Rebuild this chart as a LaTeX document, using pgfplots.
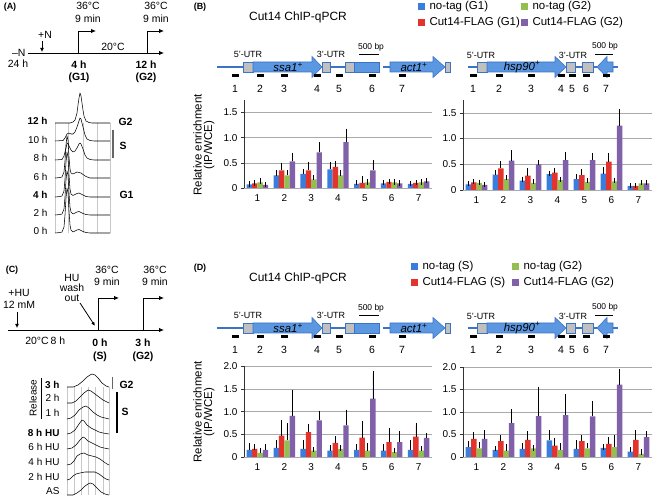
\documentclass[border=0pt]{standalone}
\usepackage{fontspec}
\setmainfont{Liberation Sans}
\usepackage{pgfplots}
\pgfplotsset{compat=1.18}
\usetikzlibrary{arrows.meta}
\definecolor{cblue}{RGB}{58,125,221}
\definecolor{cred}{RGB}{226,52,44}
\definecolor{cgreen}{RGB}{148,190,78}
\definecolor{cpurple}{RGB}{128,96,168}
\definecolor{geneblue}{RGB}{92,152,226}
\definecolor{geneline}{RGB}{60,115,195}
\definecolor{utrgray}{RGB}{192,192,192}
\definecolor{gridgray}{RGB}{170,170,170}
\definecolor{histgrid}{RGB}{200,200,200}
\newcommand{\fs}[1]{\fontsize{#1}{#1}\selectfont}

\pgfplotsset{
  barax/.style={
    scale only axis, anchor=south west,
    xmin=0.5, xmax=7.5, xtick={1,...,7},
    axis lines*=left,
    ybar=0pt, bar width=0.2,
    ymajorgrids, grid style={gridgray, line width=0.6pt},
    x axis line style={gridgray, line width=0.8pt},
    y axis line style={black!80, line width=0.7pt},
    xtick style={draw=none},
    ytick style={black!80, line width=0.6pt},
    tick align=outside, major tick length=3bp,
    ticklabel style={font=\fs{10}},
    /pgf/number format/assume math mode=true,
  },
  eb/.style={draw=none, error bars/.cd, y dir=plus, y explicit,
     error bar style={draw=black, line width=0.7pt},
     error mark options={draw=black, line width=0.7pt, mark size=2.6bp}},
  hist/.style={black, line width=0.55pt, mark=none, line join=round},
}

\newcommand{\primer}[1]{\fill[black] ({#1-3.5},74.5) rectangle ({#1+3.5},77.5);}
\newcommand{\geneleft}{%
  \draw[geneline, line width=1.8bp] (217,67)--(243,67);
  \draw[geneline, line width=1.8bp] (330,67)--(345,67);
  \draw[geneline, line width=1.8bp] (383,67)--(390,67);
  \draw[geneline, fill=utrgray, line width=0.6bp] (243,62) rectangle (253,72);
  \draw[geneline, fill=geneblue, line width=0.6bp] (253,62)--(312,62)--(312,56.5)--(322,67)--(312,77.5)--(312,72)--(253,72)--cycle;
  \draw[geneline, fill=utrgray, line width=0.6bp] (322,62) rectangle (330,72);
  \draw[geneline, fill=utrgray, line width=0.6bp] (345,62) rectangle (354,72);
  \draw[geneline, fill=geneblue, line width=0.6bp] (354,62) rectangle (379,72);
  \draw[geneline, fill=geneblue, line width=0.6bp] (390,62)--(433,62)--(433,56.5)--(445,67)--(433,77.5)--(433,72)--(390,72)--cycle;
  \draw[geneline, fill=utrgray, line width=0.6bp] (445,62) rectangle (450,72);
  \node[font=\fs{11.5}\itshape] at (288,67) {ssa1\textsuperscript{+}};
  \node[font=\fs{11.5}\itshape] at (414,67) {act1\textsuperscript{+}};
  \node[font=\fs{9}] at (248,54) {5'-UTR};
  \node[font=\fs{9}] at (331,54) {3'-UTR};
  \node[font=\fs{8.5}] at (371,47) {500 bp};
  \draw[black, line width=1.2bp] (359,54.5)--(379,54.5);
  \foreach \x/\n in {235/1,260/2,284/3,317/4,339/5,372/6,402/7}{\primer{\x}\node[font=\fs{10.5}] at (\x,88.5) {\n};}
}
\newcommand{\generight}{%
  \draw[geneline, line width=1.8bp] (468,67)--(477,67);
  \draw[geneline, line width=1.8bp] (575,67)--(582,67);
  \draw[geneline, line width=1.8bp] (593,67)--(597,67);
  \draw[geneline, line width=1.8bp] (613,67)--(618,67);
  \draw[geneline, fill=utrgray, line width=0.6bp] (477,62) rectangle (487,72);
  \draw[geneline, fill=geneblue, line width=0.6bp] (487,62)--(555,62)--(555,56.5)--(566,67)--(555,77.5)--(555,72)--(487,72)--cycle;
  \draw[geneline, fill=utrgray, line width=0.6bp] (566,62) rectangle (575,72);
  \draw[geneline, fill=utrgray, line width=0.6bp] (582,62) rectangle (593,72);
  \draw[geneline, fill=geneblue, line width=0.6bp] (613,62)--(607,62)--(607,56.5)--(597,67)--(607,77.5)--(607,72)--(613,72)--cycle;
  \node[font=\fs{11.5}\itshape] at (522,67) {hsp90\textsuperscript{+}};
  \node[font=\fs{9}] at (481,55) {5'-UTR};
  \node[font=\fs{9}] at (573,55) {3'-UTR};
  \node[font=\fs{8.5}] at (605,46) {500 bp};
  \draw[black, line width=1.2bp] (595,54.5)--(613,54.5);
  \foreach \x/\n in {473/1,499/2,531/3,561/4,572/5,586/6,606/7}{\primer{\x}\node[font=\fs{10.5}] at (\x,88.5) {\n};}
}
\newcommand{\legsq}[3]{\fill[#1] (#2,{#3-3.5}) rectangle ({#2+6.5},{#3+3});}

\begin{document}
\begin{tikzpicture}
\useasboundingbox (0,0) rectangle (654bp,498bp);
\begin{scope}[x=1bp,y=-1bp,yshift=498bp]
  % ---------- panel A timeline
  \node[font=\fs{9}\bfseries] at (10,7) {(A)};
  \draw[black, line width=0.9bp, -{Latex[length=5bp,width=4.5bp]}] (28,53)--(164,53);
  \node[font=\fs{10.5}, anchor=east] at (29,53) {\textendash N};
  \node[font=\fs{10.5}] at (18,64) {24 h};
  \node[font=\fs{10.5}] at (45,35) {+N};
  \draw[black, line width=1bp, -{Latex[length=4bp,width=4bp]}] (42,41)--(42,52);
  \draw[black, line width=0.9bp, -{Latex[length=5bp,width=4.5bp]}] (78,53)--(78,31)--(96,31);
  \draw[black, line width=0.9bp, -{Latex[length=5bp,width=4.5bp]}] (147,53)--(147,31)--(164,31);
  \node[font=\fs{10.5}] at (88,6) {36°C};
  \node[font=\fs{10.5}] at (88,19) {9 min};
  \node[font=\fs{10.5}] at (156,6) {36°C};
  \node[font=\fs{10.5}] at (156,19) {9 min};
  \node[font=\fs{10.5}] at (113,47) {20°C};
  \node[font=\fs{10.5}\bfseries] at (79,65) {4 h};
  \node[font=\fs{10.5}\bfseries] at (79,78) {(G1)};
  \node[font=\fs{10.5}\bfseries] at (146,65) {12 h};
  \node[font=\fs{10.5}\bfseries] at (146,78) {(G2)};
  % ---------- panel A histogram frame and labels
  \foreach \x in {55,68,83,97,110}{\draw[histgrid, line width=0.5bp] (\x,123)--(\x,233);}
  \foreach \y/\t in {121/\textbf{12 h},140/10 h,158/8 h,177/6 h,195/\textbf{4 h},213/2 h,231/0 h}{\node[font=\fs{10}, anchor=east] at (51,\y) {\t};}
  \node[font=\fs{10.5}\bfseries, anchor=west] at (115,122) {G2};
  \draw[black!60, line width=1.4bp] (113,130)--(113,158);
  \node[font=\fs{10.5}\bfseries] at (123,146) {S};
  \node[font=\fs{10.5}\bfseries, anchor=west] at (116,195) {G1};
  % ---------- panel C timeline
  \node[font=\fs{9}\bfseries] at (12,270) {(C)};
  \draw[black, line width=0.9bp, -{Latex[length=5bp,width=4.5bp]}] (8,330)--(164,330);
  \node[font=\fs{10.5}] at (19,293) {+HU};
  \node[font=\fs{10.5}] at (19,305) {12 mM};
  \draw[black, line width=1bp, -{Latex[length=4bp,width=4bp]}] (17,312)--(17,328);
  \node[font=\fs{10.5}] at (72,278) {HU};
  \node[font=\fs{10.5}] at (72,288) {wash};
  \node[font=\fs{10.5}] at (72,298) {out};
  \draw[black, line width=0.8bp, -{Latex[length=4bp,width=3.5bp]}] (80,303)--(95,326);
  \draw[black, line width=0.9bp, -{Latex[length=5bp,width=4.5bp]}] (98,330)--(98,298)--(119,298);
  \draw[black, line width=0.9bp, -{Latex[length=5bp,width=4.5bp]}] (143,330)--(143,298)--(164,298);
  \node[font=\fs{10.5}] at (107,270) {36°C};
  \node[font=\fs{10.5}] at (107,282) {9 min};
  \node[font=\fs{10.5}] at (155,270) {36°C};
  \node[font=\fs{10.5}] at (155,282) {9 min};
  \node[font=\fs{10.5}] at (37,341) {20°C};
  \node[font=\fs{10.5}] at (58,341) {8 h};
  \node[font=\fs{10.5}\bfseries] at (100,343) {0 h};
  \node[font=\fs{10.5}\bfseries] at (100,357) {(S)};
  \node[font=\fs{10.5}\bfseries] at (143,343) {3 h};
  \node[font=\fs{10.5}\bfseries] at (143,357) {(G2)};
  % ---------- panel C histogram frame and labels
  \foreach \x in {67,74,81,88,95,103,109}{\draw[histgrid, line width=0.5bp] (\x,387)--(\x,495);}
  \foreach \y/\t in {385/\textbf{3 h},398/2 h,413/1 h,433/\textbf{8 h HU},447/6 h HU,462/4 h HU,477/2 h HU,491/AS}{\node[font=\fs{10}, anchor=east] at (63,\y) {\t};}
  \node[font=\fs{10}, rotate=90] at (33,398) {Release};
  \draw[black, line width=0.8bp] (41,378)--(41,419);
  \draw[black!60, line width=0.8bp] (112,377)--(112,389);
  \node[font=\fs{10.5}\bfseries, anchor=west] at (116,385) {G2};
  \draw[black, line width=1.1bp] (117,392)--(117,433);
  \node[font=\fs{10.5}\bfseries] at (125,412) {S};
  % ---------- panel B header
  \node[font=\fs{9}\bfseries] at (200,7) {(B)};
  \node[font=\fs{12}] at (298,17) {Cut14 ChIP-qPCR};
  \legsq{cblue}{418}{7}  \node[font=\fs{11.5}, anchor=west] at (426,7) {no-tag (G1)};
  \legsq{cgreen}{521}{7} \node[font=\fs{11.5}, anchor=west] at (529,7) {no-tag (G2)};
  \legsq{cred}{418}{23}  \node[font=\fs{11.5}, anchor=west] at (426,23) {Cut14-FLAG (G1)};
  \legsq{cpurple}{521}{23} \node[font=\fs{11.5}, anchor=west] at (529,23) {Cut14-FLAG (G2)};
  \geneleft
  \generight
  \node[font=\fs{11.5}, rotate=90, align=center] at (204,145) {Relative enrichment\\[-1bp](IP/WCE)};
  % ---------- panel D header
  \node[font=\fs{9}\bfseries] at (200,268) {(D)};
  \node[font=\fs{12}] at (298,278) {Cut14 ChIP-qPCR};
  \legsq{cblue}{411}{267}  \node[font=\fs{11.5}, anchor=west] at (419,267) {no-tag (S)};
  \legsq{cgreen}{512}{267} \node[font=\fs{11.5}, anchor=west] at (520,267) {no-tag (G2)};
  \legsq{cred}{411}{283}  \node[font=\fs{11.5}, anchor=west] at (419,283) {Cut14-FLAG (S)};
  \legsq{cpurple}{512}{283} \node[font=\fs{11.5}, anchor=west] at (520,283) {Cut14-FLAG (G2)};
  \begin{scope}[yshift=-261bp]
    \geneleft
    \generight
  \end{scope}
  \node[font=\fs{11.5}, rotate=90, align=center] at (204,412) {Relative enrichment\\[-1bp](IP/WCE)};
\end{scope}

% ---------- flow cytometry histograms (pixel coordinates)
\begin{axis}[at={(0bp,0bp)}, anchor=south west, scale only axis, width=654bp, height=498bp,
  xmin=0, xmax=654, ymin=0, ymax=498, y dir=reverse, hide axis, clip=false]
% A
\addplot[hist] coordinates {(55,233)(60,232.5)(62,232)(64,227)(65,215)(66,198)(67,188)(68,193)(69,211)(70,225)(71,230)(73,232)(75,231)(77,230)(79,229.5)(81,230.5)(83,231.5)(86,232.5)(90,233)(110,233)};
\addplot[hist] coordinates {(55,215)(60,214.5)(62,214)(64,209)(65,197)(66,180)(67,171)(68,175)(69,193)(70,207)(71,212)(73,214)(75,213)(77,212)(79,211.5)(81,212.5)(83,213.5)(86,214.5)(90,215)(110,215)};
\addplot[hist] coordinates {(55,197)(60,196.5)(62,196)(64,191)(65,179)(66,162)(67,152)(68,157)(69,175)(70,189)(71,194)(73,195.5)(75,194.5)(77,193.5)(79,193)(81,194)(83,195)(86,196.5)(90,197)(110,197)};
\addplot[hist] coordinates {(55,178)(60,177.5)(62,177)(64,172)(65,161)(66,145)(67,136)(68,140)(69,157)(70,169)(71,173)(73,174)(75,173)(77,172)(79,172.5)(81,173)(83,174.5)(86,176.5)(90,178)(110,178)};
\addplot[hist] coordinates {(55,160)(62,159.5)(64,156)(66,148)(67,144)(68,143)(69,146)(71,150)(73,152)(75,151)(77,148)(79,144)(80,143)(81,144)(83,149)(85,155)(87,158)(90,159.5)(94,160)(110,160)};
\addplot[hist] coordinates {(55,141)(63,140.5)(65,138)(67,134)(69,133)(71,134)(73,134)(75,132)(77,127)(79,121)(80,118)(81,119)(83,127)(85,135)(87,139)(90,140.5)(94,141)(110,141)};
\addplot[hist] coordinates {(55,123)(70,123)(73,122)(75,120)(77,113)(78,105)(79,98)(80,93)(81,96)(82,103)(83,110)(84,116)(86,121)(89,122.5)(92,123)(110,123)};
% C
\addplot[hist] coordinates {(67,387)(73,387)(78,385)(83,381)(87,377)(90,375)(92,374)(95,375)(98,378)(102,383)(106,386)(109,387)};
\addplot[hist] coordinates {(67,403)(72,403)(76,401)(80,397)(84,393)(88,390)(91,391)(95,394)(99,397)(103,400)(107,402)(109,403)};
\addplot[hist] coordinates {(67,419)(71,418)(75,415)(79,410)(83,407)(86,406)(89,408)(93,412)(97,415)(101,417)(105,418)(109,419)};
\addplot[hist] coordinates {(67,434)(71,433)(75,430)(79,424)(82,420)(84,421)(87,425)(91,428)(95,430)(99,432)(103,433)(109,434)};
\addplot[hist] coordinates {(67,449)(72,448)(76,445)(80,440)(83,437)(85,438)(88,441)(92,443)(96,445)(100,447)(104,448)(109,449)};
\addplot[hist] coordinates {(67,465)(71,464)(74,461)(77,456)(80,454)(84,453)(88,455)(92,456)(96,457)(100,459)(104,462)(107,464)(109,465)};
\addplot[hist] coordinates {(67,480)(70,479)(73,476)(76,474)(80,473)(85,472)(90,472)(95,472)(99,474)(103,477)(106,479)(109,480)};
\addplot[hist] coordinates {(67,495)(73,495)(77,493)(81,490)(85,486)(88,484)(90,483)(93,484)(97,488)(101,492)(105,494)(109,495)};
\end{axis}

% ---------- B left
\begin{axis}[barax, at={(244bp,310bp)}, width=188bp, height=88bp, ymin=0, ymax=1.75,
  ytick={0,0.5,1,1.5}, yticklabels={0,0.5,1.0,1.5}]
\addplot[fill=cblue, eb] coordinates {(1,0.07)+-(0,0.01) (2,0.25)+-(0,0.05) (3,0.28)+-(0,0.05) (4,0.37)+-(0,0.10) (5,0.08)+-(0,0.03) (6,0.09)+-(0,0.02) (7,0.08)+-(0,0.01)};
\addplot[fill=cred, eb] coordinates {(1,0.09)+-(0,0.01) (2,0.35)+-(0,0.10) (3,0.35)+-(0,0.12) (4,0.42)+-(0,0.07) (5,0.10)+-(0,0.08) (6,0.12)+-(0,0.01) (7,0.10)+-(0,0.01)};
\addplot[fill=cgreen, eb] coordinates {(1,0.11)+-(0,0.03) (2,0.25)+-(0,0.06) (3,0.17)+-(0,0.04) (4,0.25)+-(0,0.05) (5,0.11)+-(0,0.01) (6,0.11)+-(0,0.01) (7,0.11)+-(0,0.01)};
\addplot[fill=cpurple, eb] coordinates {(1,0.06)+-(0,0.01) (2,0.53)+-(0,0.12) (3,0.71)+-(0,0.15) (4,0.91)+-(0,0.22) (5,0.35)+-(0,0.15) (6,0.09)+-(0,0.01) (7,0.13)+-(0,0.02)};
\end{axis}

% ---------- B right
\begin{axis}[barax, at={(463bp,308bp)}, width=189bp, height=90bp, ymin=0, ymax=1.75,
  ytick={0,0.5,1,1.5}, yticklabels={0,0.5,1.0,1.5}]
\addplot[fill=cblue, eb] coordinates {(1,0.11)+-(0,0.01) (2,0.30)+-(0,0.04) (3,0.18)+-(0,0.03) (4,0.31)+-(0,0.01) (5,0.21)+-(0,0.05) (6,0.32)+-(0,0.07) (7,0.08)+-(0,0.01)};
\addplot[fill=cred, eb] coordinates {(1,0.15)+-(0,0.01) (2,0.42)+-(0,0.09) (3,0.28)+-(0,0.10) (4,0.34)+-(0,0.04) (5,0.29)+-(0,0.07) (6,0.55)+-(0,0.12) (7,0.08)+-(0,0.01)};
\addplot[fill=cgreen, eb] coordinates {(1,0.14)+-(0,0.01) (2,0.21)+-(0,0.03) (3,0.14)+-(0,0.02) (4,0.19)+-(0,0.01) (5,0.16)+-(0,0.02) (6,0.17)+-(0,0.01) (7,0.13)+-(0,0.01)};
\addplot[fill=cpurple, eb] coordinates {(1,0.10)+-(0,0.01) (2,0.57)+-(0,0.16) (3,0.50)+-(0,0.04) (4,0.58)+-(0,0.11) (5,0.58)+-(0,0.09) (6,1.25)+-(0,0.27) (7,0.13)+-(0,0.02)};
\end{axis}

% ---------- D left
\begin{axis}[barax, at={(244bp,41bp)}, width=188bp, height=90.5bp, ymin=0, ymax=2,
  ytick={0,0.5,1,1.5,2}, yticklabels={0,0.5,1.0,1.5,2.0}]
\addplot[fill=cblue, eb] coordinates {(1,0.16)+-(0,0.09) (2,0.20)+-(0,0.12) (3,0.18)+-(0,0.13) (4,0.14)+-(0,0.06) (5,0.16)+-(0,0.06) (6,0.14)+-(0,0.10) (7,0.16)+-(0,0.15)};
\addplot[fill=cred, eb] coordinates {(1,0.18)+-(0,0.04) (2,0.47)+-(0,0.28) (3,0.55)+-(0,0.13) (4,0.31)+-(0,0.09) (5,0.43)+-(0,0.31) (6,0.33)+-(0,0.25) (7,0.45)+-(0,0.25)};
\addplot[fill=cgreen, eb] coordinates {(1,0.09)+-(0,0.05) (2,0.37)+-(0,0.32) (3,0.14)+-(0,0.02) (4,0.18)+-(0,0.02) (5,0.14)+-(0,0.11) (6,0.11)+-(0,0.04) (7,0.14)+-(0,0.04)};
\addplot[fill=cpurple, eb] coordinates {(1,0.16)+-(0,0.07) (2,0.91)+-(0,0.52) (3,0.81)+-(0,0.15) (4,0.70)+-(0,0.29) (5,1.29)+-(0,0.55) (6,0.33)+-(0,0.19) (7,0.42)+-(0,0.05)};
\end{axis}

% ---------- D right
\begin{axis}[barax, at={(463bp,41bp)}, width=189bp, height=90bp, ymin=0, ymax=2,
  ytick={0,0.5,1,1.5,2}, yticklabels={0,0.5,1.0,1.5,2.0}]
\addplot[fill=cblue, eb] coordinates {(1,0.22)+-(0,0.07) (2,0.16)+-(0,0.03) (3,0.18)+-(0,0.07) (4,0.37)+-(0,0.18) (5,0.18)+-(0,0.13) (6,0.20)+-(0,0.02) (7,0.12)+-(0,0.04)};
\addplot[fill=cred, eb] coordinates {(1,0.40)+-(0,0.09) (2,0.35)+-(0,0.07) (3,0.38)+-(0,0.13) (4,0.25)+-(0,0.12) (5,0.35)+-(0,0.08) (6,0.29)+-(0,0.09) (7,0.38)+-(0,0.17)};
\addplot[fill=cgreen, eb] coordinates {(1,0.19)+-(0,0.08) (2,0.14)+-(0,0.10) (3,0.19)+-(0,0.01) (4,0.16)+-(0,0.09) (5,0.19)+-(0,0.06) (6,0.22)+-(0,0.21) (7,0.07)+-(0,0.04)};
\addplot[fill=cpurple, eb] coordinates {(1,0.40)+-(0,0.14) (2,0.75)+-(0,0.26) (3,0.91)+-(0,0.59) (4,0.93)+-(0,0.42) (5,0.90)+-(0,0.29) (6,1.61)+-(0,0.28) (7,0.44)+-(0,0.07)};
\end{axis}
\end{tikzpicture}
\end{document}
